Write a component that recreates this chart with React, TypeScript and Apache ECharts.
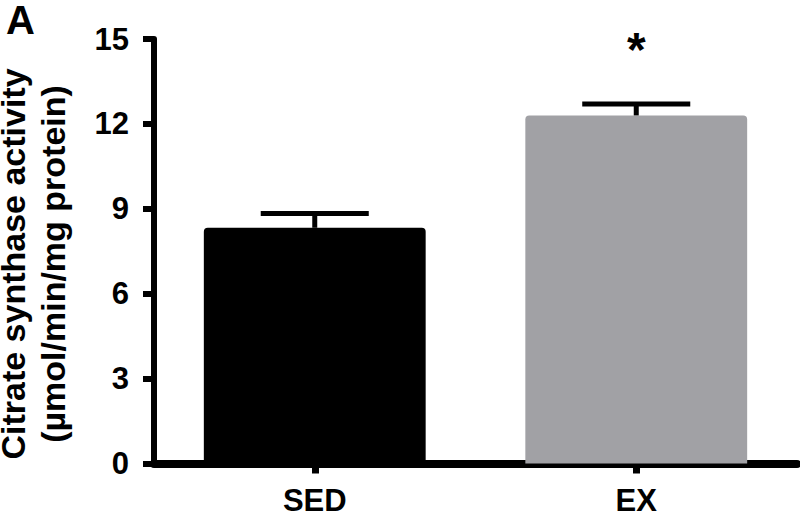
import React, { useEffect, useRef } from "react";
import * as echarts from "echarts";

const categories = ["SED", "EX"];
const means = [8.33, 12.3];
const sems = [0.5, 0.4];
const barColors = ["#000000", "#a1a1a5"];
const significance = ["", "*"];
const yMin = 0;
const yMax = 15;
const yInterval = 3;
const yTitleLines = ["Citrate synthase activity", "(µmol/min/mg protein)"];
const panelLabel = "A";

const FONT = '"Liberation Sans", Arial, Helvetica, sans-serif';

export default function App() {
  const ref = useRef<HTMLDivElement>(null);
  useEffect(() => {
    if (!ref.current) return;
    const chart = echarts.init(ref.current, null, { renderer: "svg" });
    const option: any = {
      animation: false,
      backgroundColor: "#ffffff",
      grid: { left: 154, right: 3, top: 39, bottom: 49, containLabel: false },
      xAxis: {
        type: "category",
        data: categories,
        axisLine: { show: true, lineStyle: { color: "#000", width: 8 } },
        axisTick: { show: true, alignWithLabel: true, length: 10, lineStyle: { color: "#000", width: 7 } },
        axisLabel: {
          color: "#000",
          fontSize: 31,
          fontWeight: "bold",
          fontFamily: FONT,
          lineHeight: 22,
          margin: 26,
        },
        splitLine: { show: false },
      },
      yAxis: {
        type: "value",
        min: yMin,
        max: yMax,
        interval: yInterval,
        axisLine: { show: true, lineStyle: { color: "#000", width: 6 } },
        axisTick: { show: true, length: 11, lineStyle: { color: "#000", width: 6 } },
        axisLabel: {
          color: "#000",
          fontSize: 31,
          fontWeight: "bold",
          fontFamily: FONT,
          margin: 25,
        },
        splitLine: { show: false },
      },
      graphic: [
        ...yTitleLines.map((t, k) => ({
          type: "text",
          x: 3 + k * 40,
          y: 264,
          rotation: Math.PI / 2,
          style: {
            text: t,
            font: `bold 34px ${FONT}`,
            fill: "#000",
            align: "center",
            verticalAlign: "top",
            lineHeight: 20,
          },
        })),
        {
          type: "text",
          x: 6,
          y: 20,
          style: {
            text: panelLabel,
            font: `bold 40px ${FONT}`,
            fill: "#000",
            align: "left",
            verticalAlign: "middle",
            lineHeight: 20,
          },
        },
      ],
      series: [
        {
          type: "bar",
          barWidth: "69%",
          data: means.map((v, i) => ({
            value: v,
            itemStyle: { color: barColors[i], borderRadius: [4, 4, 0, 0] },
          })),
          z: 1,
        },
        {
          type: "custom",
          clip: false,
          z: 3,
          data: categories.map((c, i) => [i, means[i], sems[i]]),
          renderItem: (params: any, api: any) => {
            const i = api.value(0);
            const mean = api.value(1);
            const sem = api.value(2);
            const base = api.coord([i, mean]);
            const top = api.coord([i, mean + sem]);
            const band = api.size([1, 0])[0];
            const half = band * 0.168;
            const children: any[] = [
              {
                type: "line",
                shape: { x1: base[0], y1: base[1], x2: top[0], y2: top[1] },
                style: { stroke: "#000", lineWidth: 5 },
              },
              {
                type: "line",
                shape: { x1: top[0] - half, y1: top[1], x2: top[0] + half, y2: top[1] },
                style: { stroke: "#000", lineWidth: 5 },
              },
            ];
            const sig = significance[params.dataIndex];
            if (sig) {
              const p = api.coord([i, yMax]);
              children.push({
                type: "text",
                x: p[0],
                y: p[1] + 10,
                style: {
                  text: sig,
                  font: `bold 48px ${FONT}`,
                  fill: "#000",
                  align: "center",
                  verticalAlign: "middle",
                },
              });
            }
            return { type: "group", children };
          },
        },
      ],
    };
    chart.setOption(option);
    return () => chart.dispose();
  }, []);
  return (
    <div
      ref={ref}
      style={{ position: "fixed", left: 0, top: 0, width: 800, height: 516, background: "#fff" }}
    />
  );
}
